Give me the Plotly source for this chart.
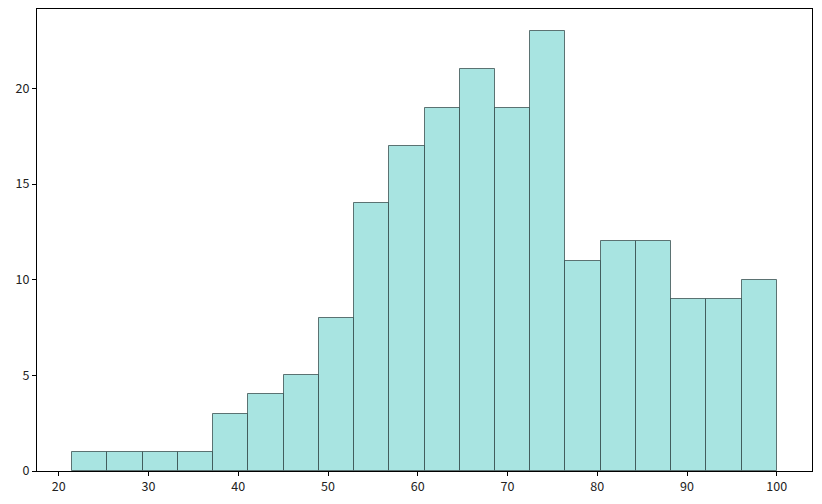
import plotly.graph_objects as go

# histogram data
bin_start = 21.5
bin_end = 100.0
counts = [1, 1, 1, 1, 3, 4, 5, 8, 14, 17, 19, 21, 19, 23, 11, 12, 12, 9, 9, 10]
x_ticks = [20, 30, 40, 50, 60, 70, 80, 90, 100]
y_ticks = [0, 5, 10, 15, 20]

n = len(counts)
bw = (bin_end - bin_start) / n
centers = [bin_start + bw * (i + 0.5) for i in range(n)]

fig = go.Figure()
fig.add_trace(go.Bar(
    x=centers, y=counts, width=[bw] * n,
    marker=dict(color="rgb(168,228,225)",
                line=dict(color="rgba(40,60,60,0.7)", width=1)),
    hoverinfo="x+y",
))

pad = (bin_end - bin_start) * 0.05
ymax = max(counts) * 1.05
fig.update_layout(
    width=822, height=504,
    margin=dict(l=37, r=10, t=9, b=33),
    plot_bgcolor="white", paper_bgcolor="white",
    showlegend=False, bargap=0,
    font=dict(family="Noto Sans CJK JP, DejaVu Sans, sans-serif", size=12.5, color="#222"),
)
fig.update_xaxes(range=[bin_start - pad, bin_end + pad], tickvals=x_ticks,
                 showgrid=False, zeroline=False, showline=True, linecolor="black",
                 linewidth=1, mirror=True, ticks="outside", ticklen=4,
                 tickcolor="black", automargin=False)
fig.update_yaxes(range=[0, ymax], tickvals=y_ticks,
                 showgrid=False, zeroline=False, showline=True, linecolor="black",
                 linewidth=1, mirror=True, ticks="outside", ticklen=4,
                 tickcolor="black", automargin=False)

fig.write_html("out.html", config={"displayModeBar": False},
               post_script="document.body.style.margin='0';document.body.style.overflow='hidden';")
